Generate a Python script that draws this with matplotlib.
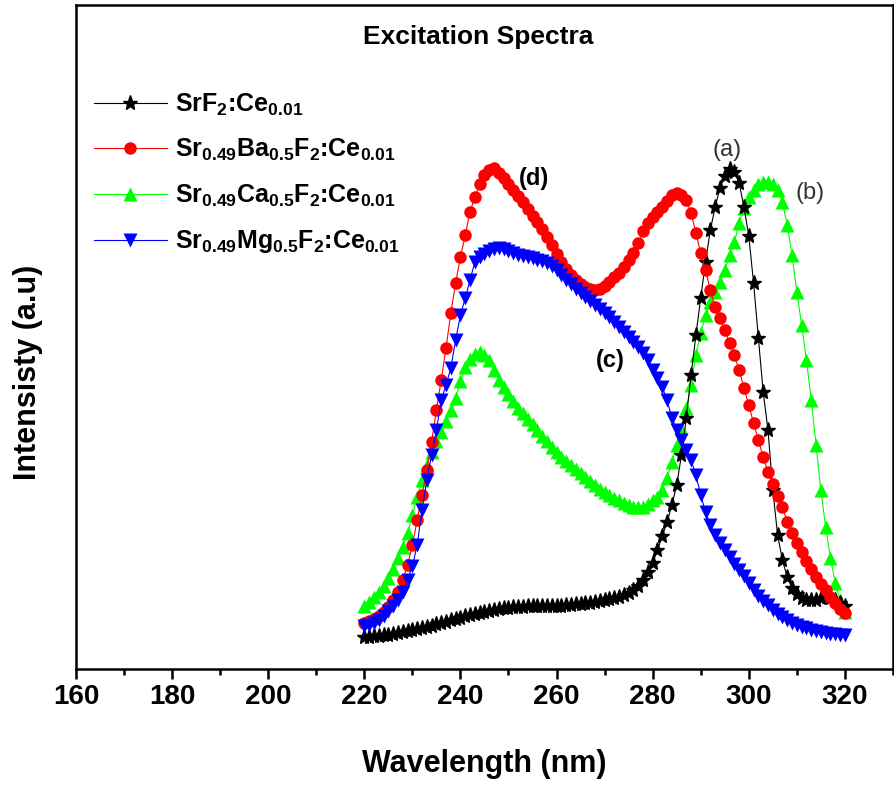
import matplotlib
matplotlib.use("Agg")
import matplotlib.pyplot as plt
from matplotlib.ticker import MultipleLocator
import numpy as np

plt.rcParams['font.family'] = ['Liberation Sans', 'DejaVu Sans']
plt.rcParams['font.weight'] = 'bold'
plt.rcParams['mathtext.fontset'] = 'custom'
plt.rcParams['mathtext.rm'] = 'Liberation Sans:bold'
plt.rcParams['mathtext.it'] = 'Liberation Sans:bold'
plt.rcParams['mathtext.bf'] = 'Liberation Sans:bold'

# wavelength grid, 1 nm steps
wavelength = np.arange(220, 321)

# intensities (a.u.), 220..320 nm
srf2 = [32, 32, 33, 33, 34, 34, 35, 36, 37, 38,
        39, 40, 41, 42, 43, 45, 46, 47, 49, 50,
        51, 53, 54, 55, 56, 57, 58, 59, 60, 61,
        61, 62, 62, 62, 63, 63, 63, 63, 63, 63,
        63, 63, 64, 64, 65, 65, 66, 66, 67, 68,
        69, 70, 71, 72, 74, 76, 79, 83, 89, 97,
        106, 119, 133, 147, 164, 184, 214, 251, 294, 334,
        371, 407, 439, 462, 481, 493, 500, 497, 486, 462,
        433, 386, 331, 277, 239, 179, 134, 109, 92, 81,
        75, 71, 69, 69, 69, 71, 72, 71, 69, 66,
        63]

sr_ba = [46, 48, 50, 53, 57, 62, 69, 77, 89, 104,
         124, 149, 174, 199, 227, 259, 289, 321, 356, 386,
         412, 434, 457, 472, 485, 494, 499, 501, 496, 491,
         485, 479, 473, 467, 460, 453, 447, 440, 432, 424,
         415, 407, 400, 394, 389, 385, 382, 380, 379, 380,
         383, 387, 392, 396, 402, 409, 416, 426, 438, 446,
         452, 457, 462, 468, 474, 476, 474, 469, 456, 436,
         416, 399, 379, 362, 351, 339, 326, 314, 299, 281,
         264, 246, 229, 212, 197, 185, 173, 162, 147, 136,
         126, 117, 108, 100, 92, 85, 79, 72, 66, 60,
         56]

sr_ca = [63, 67, 72, 77, 83, 91, 100, 111, 122, 136,
         154, 172, 189, 204, 217, 228, 237, 248, 259, 271,
         288, 302, 310, 315, 317, 314, 309, 299, 289, 282,
         275, 268, 261, 256, 250, 245, 239, 233, 228, 222,
         217, 212, 208, 204, 200, 196, 192, 188, 184, 180,
         177, 174, 171, 169, 166, 164, 162, 162, 162, 165,
         169, 172, 179, 191, 207, 224, 241, 261, 284, 314,
         336, 354, 367, 377, 387, 399, 414, 427, 446, 461,
         472, 479, 485, 487, 487, 485, 479, 467, 444, 414,
         377, 344, 309, 269, 224, 179, 142, 111, 86, 69,
         57]

sr_mg = [43, 44, 46, 49, 53, 58, 63, 69, 77, 89,
         103, 124, 159, 189, 214, 239, 269, 284, 301, 329,
         354, 371, 389, 407, 412, 415, 418, 420, 421, 420,
         418, 416, 414, 413, 412, 411, 409, 408, 406, 403,
         399, 394, 389, 385, 380, 376, 372, 368, 364, 360,
         356, 352, 347, 342, 337, 332, 327, 322, 316, 309,
         299, 291, 282, 269, 251, 239, 229, 219, 209, 194,
         174, 157, 144, 134, 126, 119, 112, 105, 99, 93,
         86, 79, 73, 68, 64, 59, 55, 52, 49, 46,
         44, 42, 41, 39, 38, 37, 36, 35, 35, 34,
         34]

labels = ['SrF$_2$:Ce$_{0.01}$',
          'Sr$_{0.49}$Ba$_{0.5}$F$_2$:Ce$_{0.01}$',
          'Sr$_{0.49}$Ca$_{0.5}$F$_2$:Ce$_{0.01}$',
          'Sr$_{0.49}$Mg$_{0.5}$F$_2$:Ce$_{0.01}$']

fig = plt.figure(figsize=(8.95, 7.87), dpi=100)
ax = fig.add_axes([0.0849, 0.1499, 0.9128, 0.8437])

l1, = ax.plot(wavelength, srf2, '-', color='black', marker='*', ms=11, lw=0.8, zorder=3)
l2, = ax.plot(wavelength, sr_ba, '-', color='#ff0000', marker='o', ms=9, lw=0.8,
              mec='none', zorder=4)
l3, = ax.plot(wavelength, sr_ca, '-', color='#00ff00', marker='^', ms=10.5, lw=0.8,
              mec='none', zorder=2)
l4, = ax.plot(wavelength, sr_mg, '-', color='#0000ff', marker='v', ms=10.5, lw=0.8,
              mec='none', zorder=5)

ax.set_xlim(160, 330)
ax.set_ylim(0, 664)
ax.xaxis.set_major_locator(MultipleLocator(20))
ax.xaxis.set_minor_locator(MultipleLocator(10))
ax.tick_params(axis='x', which='major', direction='out', length=7, width=1.8,
               labelsize=20, pad=4)
ax.tick_params(axis='x', which='minor', direction='out', length=4, width=1.8)
ax.set_yticks([])
for s in ax.spines.values():
    s.set_linewidth(1.8)

ax.set_xlabel('Wavelength (nm)', fontsize=22, fontweight='bold', labelpad=28)
ax.set_ylabel('Intensisty (a.u)', fontsize=22, fontweight='bold')
ax.yaxis.set_label_coords(-0.040, 0.447)

ax.text(0.492, 0.952, 'Excitation Spectra', transform=ax.transAxes,
        ha='center', va='center', fontsize=19, fontweight='bold')

ax.text(295.5, 519, '(a)', fontsize=17, fontweight='normal', color='#333333',
        ha='center', va='center')
ax.text(312.7, 476, '(b)', fontsize=17, fontweight='normal', color='#333333',
        ha='center', va='center')
ax.text(255.4, 491, '(d)', fontsize=17, fontweight='bold', ha='center', va='center')
ax.text(271.2, 309, '(c)', fontsize=17, fontweight='bold', ha='center', va='center')

ax.legend([l1, l2, l3, l4], labels, loc='upper left', bbox_to_anchor=(0.01, 0.885),
          frameon=False, fontsize=18, handlelength=2.9, handletextpad=0.35,
          labelspacing=0.78, borderaxespad=0)

fig.savefig('out.png', dpi=100)
